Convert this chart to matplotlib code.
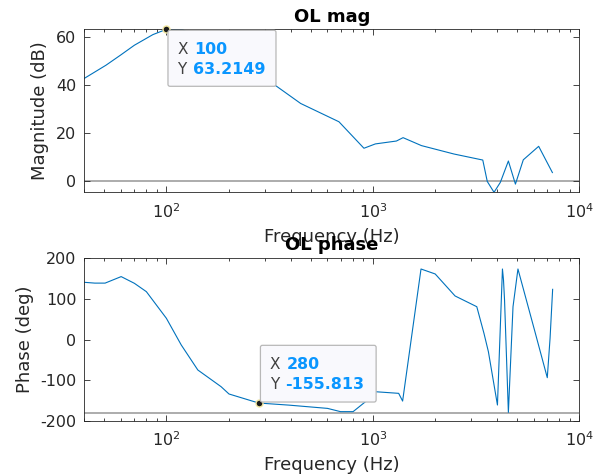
import matplotlib
matplotlib.use("Agg")
import matplotlib.pyplot as plt
from matplotlib.patches import FancyBboxPatch
from matplotlib.transforms import IdentityTransform
import numpy as np

plt.rcParams['font.family'] = ['DejaVu Sans']
plt.rcParams['axes.unicode_minus'] = False

# ---- data ----
freq_mag = [40, 51, 60, 70, 86, 100, 120, 150, 200, 250, 341, 447, 685, 905, 1028,
            1300, 1400, 1718, 2471, 3405, 3580, 3860, 4140, 4530, 4900, 5350, 6350, 7400]
mag_db = [42.8, 48.3, 52.5, 56.6, 61.0, 63.2149, 63.0, 59.0, 53.0, 47.0, 39.6, 32.4, 24.8,
          13.8, 15.6, 16.8, 18.2, 14.9, 11.4, 8.9, 0.0, -4.5, -0.4, 8.5, -1.1, 9.0, 14.6, 3.7]

freq_ph = [40, 45, 50.5, 60.4, 70, 80, 100, 118, 142, 184, 201, 280, 393, 603, 697, 802, 921,
           1028, 1333, 1393, 1710, 2003, 2500, 3185, 3450, 3625, 4010, 4240, 4290, 4340, 4530,
           4770, 5040, 6060, 6990, 7210, 7420]
phase_deg = [141, 139, 139, 155, 138.5, 118, 52.5, -13, -74.6, -115.6, -133.6, -155.813, -161,
             -169, -177, -177, -152.5, -128, -132, -151, 173.7, 161.5, 107.4, 81, 15.6, -29.6,
             -160.7, 173.7, 146.7, 97.5, -178.8, 81, 173.7, 23.7, -93.5, 3.3, 123.7]

mag_ref = 0
phase_ref = -180
tip_mag = (100, 63.2149)
tip_ph = (280, -155.813)
mag_yticks = [0, 20, 40, 60]
ph_yticks = [-200, -100, 0, 100, 200]

W, H = 603, 475
fig = plt.figure(figsize=(W / 100, H / 100), dpi=100)
L, R = 84.2, 579.4
ax1 = fig.add_axes([L / W, 1 - 192.3 / H, (R - L) / W, 163.0 / H])
ax2 = fig.add_axes([L / W, 1 - 421.0 / H, (R - L) / W, 162.7 / H])

line_c = '#0072BD'
axc = '#262626'

for ax in (ax1, ax2):
    ax.set_xscale('log')
    ax.set_xlim(40, 1e4)
    ax.tick_params(which='both', direction='in', top=True, right=True, colors=axc,
                   labelsize=11.5, width=0.6)
    ax.tick_params(axis='y', pad=5.5)
    ax.tick_params(axis='x', pad=7.0)
    ax.tick_params(which='major', length=4.5)
    ax.tick_params(which='minor', length=2.2)
    for s in ax.spines.values():
        s.set_color(axc)
        s.set_linewidth(0.6)

ax1.axhline(mag_ref, color='#a6a6a6', lw=1.3, zorder=1)
ax1.plot(freq_mag, mag_db, color=line_c, lw=0.8, zorder=2)
ax1.set_ylim(-4.5, 63.2149)
ax1.set_yticks(mag_yticks)
ax1.set_title('OL mag', fontsize=13, fontweight='bold', pad=5.5)
ax1.set_xlabel('Frequency (Hz)', fontsize=13, color=axc, labelpad=5)
ax1.set_ylabel('Magnitude (dB)', fontsize=13, color=axc, labelpad=5.5)

ax2.axhline(phase_ref, color='#a6a6a6', lw=1.3, zorder=1)
ax2.plot(freq_ph, phase_deg, color=line_c, lw=0.8, zorder=2)
ax2.set_ylim(-200, 200)
ax2.set_yticks(ph_yticks)
ax2.set_title('OL phase', fontsize=13, fontweight='bold', pad=6)
ax2.set_xlabel('Frequency (Hz)', fontsize=13, color=axc, labelpad=5)
ax2.set_ylabel('Phase (deg)', fontsize=13, color=axc, labelpad=4.5)

# data tips
def datatip(ax, pt, above, xs, ys, boxw, boxh):
    ax.plot([pt[0]], [pt[1]], 'o', ms=5, mfc='#1a1a1a', mec='#f0e6a0', mew=1.0,
            zorder=6, clip_on=False)
    px, py = ax.transData.transform(pt)
    if above:
        bx, by = px + 1.7, py + 1
    else:
        bx, by = px + 1.6, py + 1 - boxh - 2
    box = FancyBboxPatch((bx, by), boxw, boxh, boxstyle='round,pad=0,rounding_size=2',
                         fc='#f9f9fd', ec='#b8b8b8', lw=0.9, transform=IdentityTransform(),
                         zorder=10)
    fig.patches.append(box)
    for i, (lab, val, off) in enumerate((('X', xs, 26.3), ('Y', ys, 24.8))):
        cy = by + boxh - 19.5 - 20 * i
        fig.text(bx + 9.4, cy, lab, color='#404040', fontsize=11, va='center', ha='left',
                 transform=IdentityTransform(), zorder=11)
        fig.text(bx + off, cy, val, color='#0a96ff', fontsize=11.4, fontweight='bold',
                 va='center', ha='left', transform=IdentityTransform(), zorder=11)

datatip(ax1, tip_mag, False, '100', '63.2149', 108, 56)
datatip(ax2, tip_ph, True, '280', '-155.813', 115.7, 56.7)

fig.savefig('out.png', dpi=100)
